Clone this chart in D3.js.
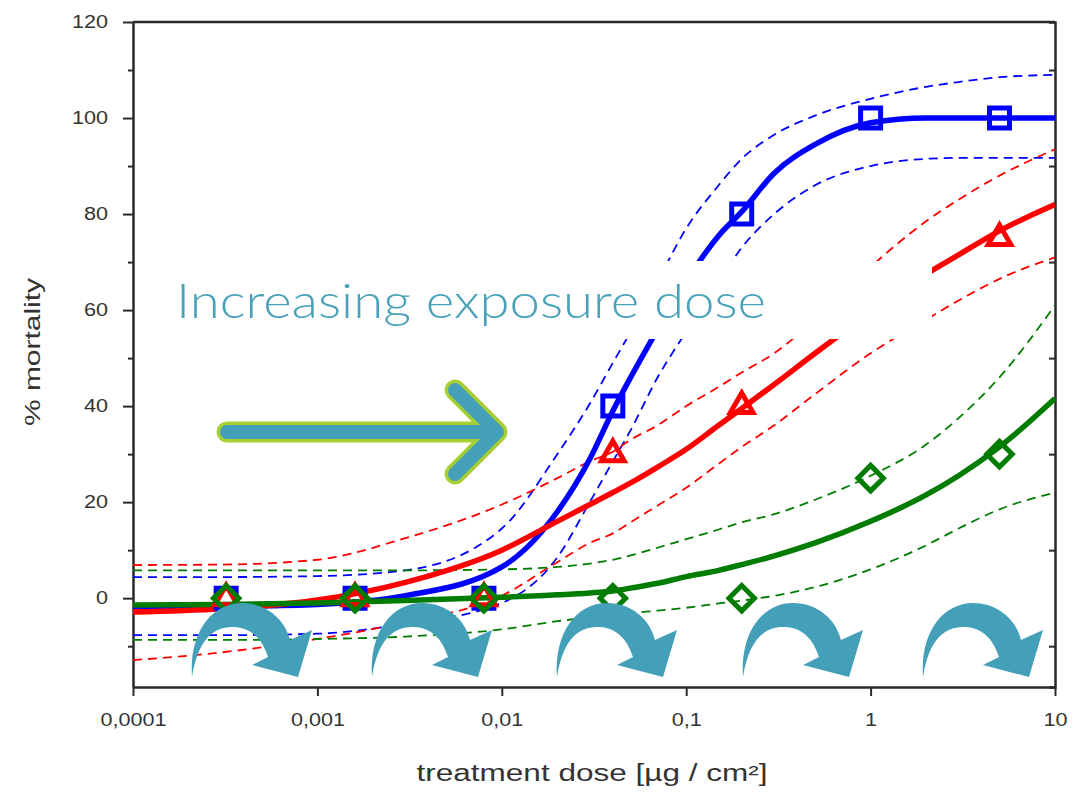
<!DOCTYPE html>
<html><head><meta charset="utf-8">
<script src="https://cdn.jsdelivr.net/npm/d3@7"></script>
<style>html,body{margin:0;padding:0;background:#fff;} svg{display:block;}</style>
</head><body><svg id="chart" width="1074" height="794"></svg>
<script>
// ---- data ----
const xTickValues = [0.0001, 0.001, 0.01, 0.1, 1, 10];
const xTickLabels = ["0,0001", "0,001", "0,01", "0,1", "1", "10"];
const yTickValues = [0, 20, 40, 60, 80, 100, 120];
const yMinorTicks = [-10, 10, 30, 50, 70, 90, 110];
const xTitle = "treatment dose [µg / cm²]";
const yTitle = "% mortality";
const annotation = "Increasing exposure dose";

const markerDoses = [0.00032, 0.0016, 0.008, 0.04, 0.2, 1, 5];
const blueObserved = [0, 0, 0, 40, 80, 100, 100];
const redObserved = [0, 0, 0, 30, 40, 60, 75];
const greenObserved = [0, 0, 0, 0, 0, 25, 30];

const curveDoses = [0.0001, 0.0003, 0.001, 0.003, 0.01, 0.02, 0.03, 0.04, 0.05, 0.07, 0.1, 0.15, 0.2, 0.3, 0.5, 1, 2, 3, 5, 10];
const blueFit   = [-1.8, -1.7, -1.3, 0.5, 6.5, 18, 29, 39, 46, 56, 66, 75.5, 80.5, 88.5, 94.5, 99, 100, 100, 100, 100];
const blueUpper = [4.4, 4.4, 4.6, 5.8, 14.5, 30, 40.5, 49, 55.5, 66, 77, 86, 91.5, 96.5, 100.5, 104, 106.5, 107.5, 108.5, 109];
const blueLower = [-7.7, -7.7, -7.4, -5.3, -1, 8.5, 20, 28.5, 35, 46, 55.5, 66, 73, 80, 86, 90, 91.5, 91.7, 91.7, 91.7];
const redFit    = [-2.9, -2.2, -0.4, 3.3, 10, 16, 19.5, 22, 24, 27.3, 31, 36, 39.5, 44.5, 51, 59.5, 67.5, 71.5, 76.5, 82];
const redUpper  = [6.9, 7, 8, 12.5, 19.5, 25, 28.5, 30.5, 33, 36, 40, 44, 47, 51, 58, 69, 78.5, 83, 88, 93.5];
const redLower  = [-12.9, -11.3, -8.5, -5, 0.5, 7.5, 11.5, 13.5, 15.8, 19.3, 23, 28, 31.5, 36, 42.5, 51, 58, 62, 66.5, 71];
const greenFit  = [-1.4, -1.3, -1.0, -0.5, 0.2, 0.7, 1.1, 1.5, 2.1, 3.1, 4.5, 5.8, 7, 8.8, 11.5, 16, 21.5, 25.5, 31.5, 41.6];
const greenUpper= [5.8, 5.8, 5.8, 5.8, 6, 6.5, 7.2, 8, 8.9, 10.5, 12.3, 14.3, 15.8, 17.5, 20.5, 25.5, 32, 37.5, 46, 61];
const greenLower= [-8.7, -8.7, -8.5, -8, -6.5, -4.8, -4, -3.5, -3.1, -2.6, -2, -1.1, -0.5, 0.5, 2.3, 6, 11, 14.5, 18.5, 22];

const curvedArrowTails = [192, 372, 557, 743, 923];

// ---- drawing ----
const svg = d3.select("#chart");
const W = 1074, H = 794;
const plot = {left: 133, right: 1055, top: 22, bottom: 687};
const x = d3.scaleLog().domain([0.0001, 10]).range([plot.left, plot.right]);
const y = d3.scaleLinear().domain([-18.5, 120]).range([plot.bottom, plot.top]);

svg.append("rect").attr("width", W).attr("height", H).attr("fill", "#fff");

const FONT = "'Liberation Sans', Arial, Helvetica, sans-serif";
const AX = "#2a2a2a";

function stretchTexts(sel, f) {
  sel.each(function () {
    const w = this.getComputedTextLength();
    d3.select(this).attr("textLength", w * f).attr("lengthAdjust", "spacingAndGlyphs");
  });
}

// axes
const gx = svg.append("g").attr("transform", `translate(0,${plot.bottom})`)
  .call(d3.axisBottom(x).tickValues(xTickValues).tickFormat((d, i) => xTickLabels[i]).tickSize(9).tickSizeOuter(0).tickPadding(17));
const gy = svg.append("g").attr("transform", `translate(${plot.left},0)`)
  .call(d3.axisLeft(y).tickValues(yTickValues).tickSize(10).tickSizeOuter(0).tickPadding(15));
const gyMinor = svg.append("g").attr("transform", `translate(${plot.left},0)`)
  .call(d3.axisLeft(y).tickValues(yMinorTicks).tickSize(5).tickFormat(""));
const gyRight = svg.append("g").attr("transform", `translate(${plot.right},0)`)
  .call(d3.axisLeft(y).tickValues(yMinorTicks).tickSize(6).tickFormat(""));
[gx, gy, gyMinor, gyRight].forEach(g => {
  g.selectAll("path.domain").attr("stroke", AX).attr("stroke-width", 2.5);
  g.selectAll(".tick line").attr("stroke", AX).attr("stroke-width", 2);
  g.selectAll("text").attr("font-family", FONT).attr("font-size", 18).attr("fill", "#333");
});
gyMinor.select("path.domain").remove();
svg.append("line").attr("x1", plot.left).attr("x2", plot.right).attr("y1", plot.top).attr("y2", plot.top)
  .attr("stroke", AX).attr("stroke-width", 2.5);
stretchTexts(gx.selectAll("text"), 1.2);
stretchTexts(gy.selectAll("text"), 1.2);

// titles
svg.append("text").attr("x", 592).attr("y", 781).attr("text-anchor", "middle")
  .attr("font-family", FONT).attr("font-size", 23).attr("fill", "#333")
  .attr("textLength", 351).attr("lengthAdjust", "spacingAndGlyphs").text(xTitle);
svg.append("text").attr("transform", "translate(40,352) rotate(-90)").attr("text-anchor", "middle")
  .attr("font-family", FONT).attr("font-size", 22).attr("fill", "#333")
  .attr("textLength", 148).attr("lengthAdjust", "spacingAndGlyphs").text(yTitle);

// curves
const line = d3.line().x(d => x(d[0])).y(d => y(d[1])).curve(d3.curveMonotoneX);
const pts = vals => curveDoses.map((d, i) => [d, vals[i]]);
const groups = [
  {color: "#0000ff", fit: blueFit, up: blueUpper, lo: blueLower, obs: blueObserved, shape: "square"},
  {color: "#ff0000", fit: redFit, up: redUpper, lo: redLower, obs: redObserved, shape: "triangle"},
  {color: "#007d00", fit: greenFit, up: greenUpper, lo: greenLower, obs: greenObserved, shape: "diamond"}
];
const curvesG = svg.append("g");
groups.forEach(g => {
  [g.up, g.lo].forEach(v => curvesG.append("path").attr("d", line(pts(v))).attr("fill", "none")
    .attr("stroke", g.color).attr("stroke-width", 1.8).attr("stroke-dasharray", "9,6"));
});
groups.forEach(g => {
  curvesG.append("path").attr("d", line(pts(g.fit))).attr("fill", "none")
    .attr("stroke", g.color).attr("stroke-width", 5.5);
});
groups.forEach(g => {
  let sym;
  if (g.shape === "square") sym = d3.symbol(d3.symbolSquare, 20 * 20);
  else if (g.shape === "triangle") sym = d3.symbol(d3.symbolTriangle, 220);
  else sym = d3.symbol(d3.symbolSquare, 18 * 18);
  curvesG.selectAll(null).data(markerDoses.map((d, i) => [d, g.obs[i]])).join("path")
    .attr("d", sym())
    .attr("transform", d => `translate(${x(d[0])},${y(d[1])})` + (g.shape === "diamond" ? " rotate(45)" : ""))
    .attr("fill", "none").attr("stroke", g.color).attr("stroke-width", 5)
    .attr("stroke-linejoin", "miter");
});

// annotation box + text
svg.append("rect").attr("x", 165).attr("y", 261).attr("width", 932 - 165).attr("height", 78).attr("fill", "#fff");
svg.append("text").attr("x", 176).attr("y", 318).attr("font-family", "Lato, 'Open Sans', sans-serif")
  .attr("font-weight", 300).attr("font-size", 47).attr("fill", "#4aa2ba")
  .attr("textLength", 590).attr("lengthAdjust", "spacingAndGlyphs").text(annotation);

// big arrow
const arrowPath = "M227,432 L495,432 M455,390 L497,432 L455,474";
svg.append("path").attr("d", arrowPath).attr("fill", "none").attr("stroke", "#a8d032")
  .attr("stroke-width", 21).attr("stroke-linecap", "round").attr("stroke-linejoin", "round");
svg.append("path").attr("d", arrowPath).attr("fill", "none").attr("stroke", "#449fb8")
  .attr("stroke-width", 14).attr("stroke-linecap", "round").attr("stroke-linejoin", "round");

// curved arrows
const curvedArrow = "M0,0 C-3,-45 20,-74 50,-74 C74,-74 93,-58 98,-37 L120,-47 L106,0 L60,-12 L76,-20 C70,-38 60,-49 42,-50 C22,-51 6,-38 0,0 Z";
svg.append("g").selectAll("path").data(curvedArrowTails).join("path")
  .attr("d", curvedArrow).attr("transform", d => `translate(${d},677)`).attr("fill", "#449fb8");
</script></body></html>
